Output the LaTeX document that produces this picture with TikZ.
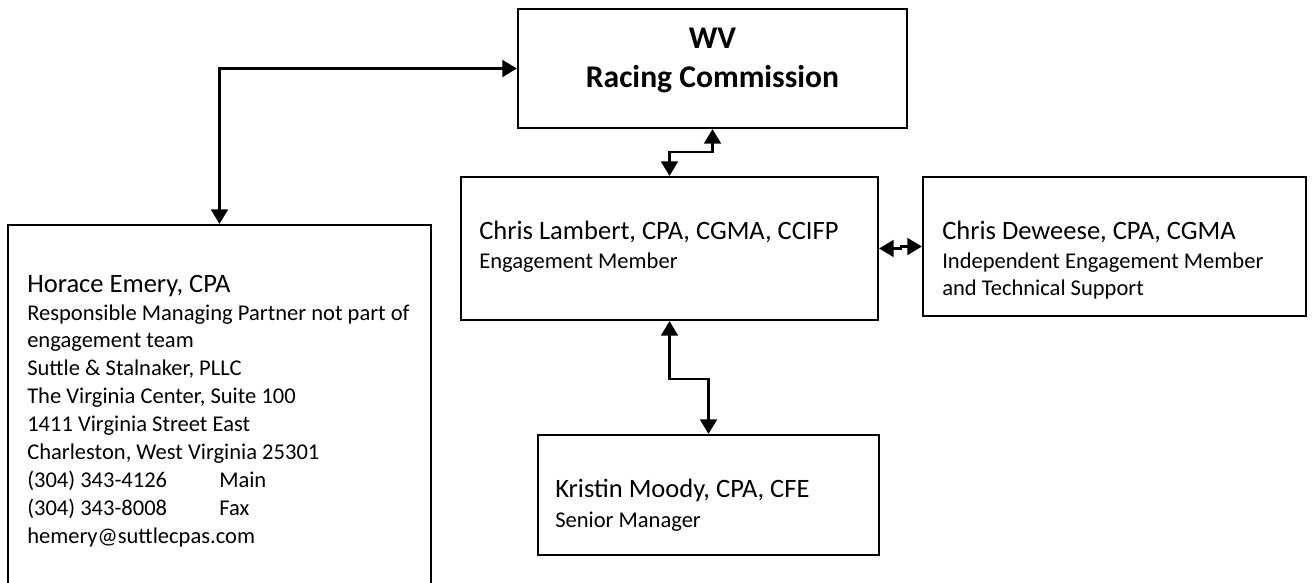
\documentclass[tikz,border=0pt]{standalone}
\usepackage{fontspec}
\setmainfont{Carlito}
\usetikzlibrary{arrows.meta,fit}

\begin{document}
\begin{tikzpicture}[x=0.75pt, y=-0.75pt, >={Triangle[width=12.5pt,length=11pt]},
	box/.style={draw, line width=1.5pt, inner sep=0pt},
	link/.style={<->, line width=2.2pt},
	title/.style={font=\fontsize{23.7}{28}\selectfont\bfseries, anchor=base, inner sep=0pt},
	who/.style={font=\fontsize{19.9}{24}\selectfont, anchor=base west, inner sep=0pt},
	role/.style={font=\fontsize{16.9}{20}\selectfont, anchor=base west, inner sep=0pt}]
	\useasboundingbox (0,0) rectangle (1312,582);
	% boxes
	\node[box, fit={(518,9) (907,128)}] (wv) {};
	\node[box, fit={(461,177) (878,320)}] (lambert) {};
	\node[box, fit={(923,177) (1306,316)}] (deweese) {};
	\node[box, fit={(538,435) (879,555)}] (moody) {};
	\node[box, fit={(8,225) (431,640)}] (horace) {};
	% texts
	\node[title] (wvname) at (712.5,48) {WV};
	\node[title] (wvsub) at (712.5,87) {Racing Commission};
	\node[who] (lambertname) at (479,239) {Chris Lambert, CPA, CGMA, CCIFP};
	\node[role] (lambertrole) at (479,268) {Engagement Member};
	\node[who] (deweesename) at (942,239) {Chris Deweese, CPA, CGMA};
	\node[role] (deweeserole) at (942,268) {Independent Engagement Member};
	\node[role] (deweeserole2) at (942,295) {and Technical Support};
	\node[who] (moodyname) at (555,497) {Kristin Moody, CPA, CFE};
	\node[role] (moodyrole) at (555,527) {Senior Manager};
	\node[who] (horacename) at (27,292) {Horace Emery, CPA};
	\foreach \txt [count=\i from 0] in {{Responsible Managing Partner not part of}, {engagement team},
		{Suttle \& Stalnaker, PLLC}, {The Virginia Center, Suite 100}, {1411 Virginia Street East},
		{Charleston, West Virginia 25301}, {\makebox[144pt][l]{(304) 343-4126}Main},
		{\makebox[144pt][l]{(304) 343-8008}Fax}, {hemery@suttlecpas.com}}
		\node[role] (horace-\i) at (27,320+27.9*\i) {\txt};
	% connectors
	\draw[link] (wv.west) -| (horace.north);
	\draw[link] (lambert.north) -- ++(0,-24) -| (wv.south);
	\draw[link] (lambert.south) -- ++(0,58) -| (moody.north);
	\draw[link] (lambert.east) -- ++(22,0) |- (deweese.west);
\end{tikzpicture}
\end{document}
